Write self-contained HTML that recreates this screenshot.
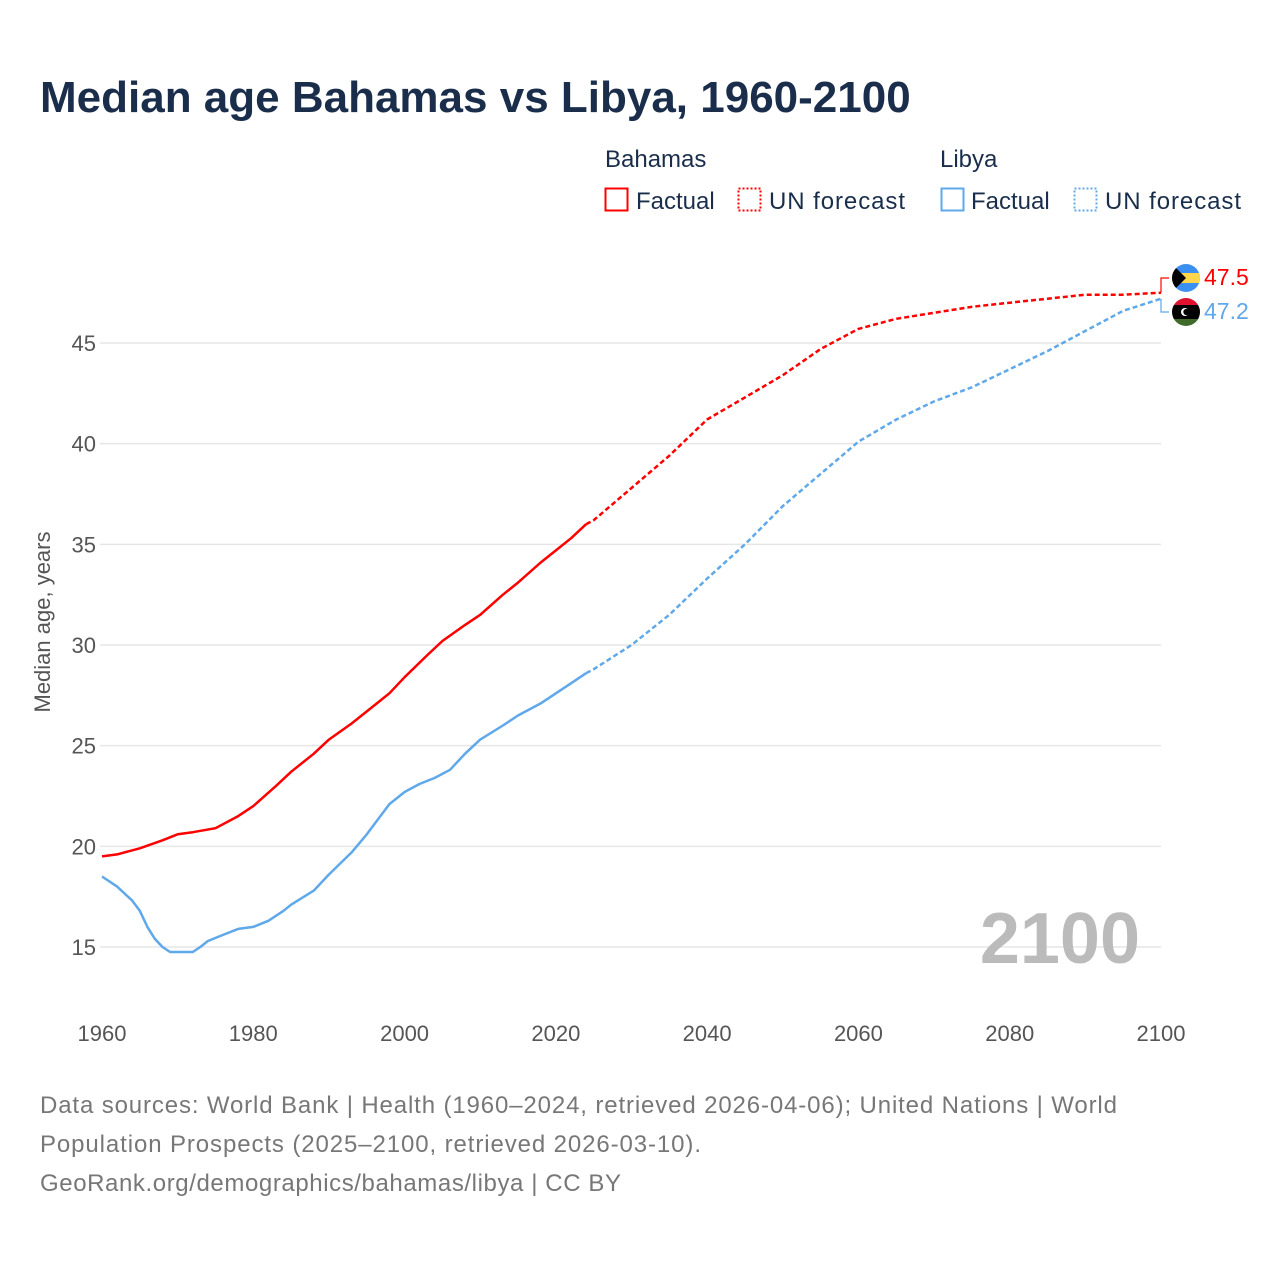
<!DOCTYPE html>
<html><head><meta charset="utf-8"><style>
body{margin:0;background:#fff;}
svg text{font-family:"Liberation Sans",sans-serif;}
</style></head><body>
<svg id="chart" width="1280" height="1280" viewBox="0 0 1280 1280" xmlns="http://www.w3.org/2000/svg">
<rect width="1280" height="1280" fill="#fff"/>
<text x="40" y="112" font-size="44" font-weight="bold" fill="#1a2e4c">Median age Bahamas vs Libya, 1960-2100</text>
<g font-size="24" fill="#1a2e4c">
<text x="605" y="167">Bahamas</text>
<text x="940" y="167">Libya</text>
<rect x="605.5" y="188.5" width="22" height="22" fill="none" stroke="#f00" stroke-width="2"/>
<text x="636" y="209">Factual</text>
<rect x="738.5" y="188.5" width="22" height="22" fill="none" stroke="#f00" stroke-width="2" stroke-dasharray="2,2"/>
<text x="769" y="209" textLength="136">UN forecast</text>
<rect x="941.5" y="188.5" width="22" height="22" fill="none" stroke="#5fa8ea" stroke-width="2"/>
<text x="971" y="209">Factual</text>
<rect x="1074.5" y="188.5" width="22" height="22" fill="none" stroke="#5fa8ea" stroke-width="2" stroke-dasharray="2,2"/>
<text x="1105" y="209" textLength="136">UN forecast</text>
</g>
<g id="grid"></g>
<g id="axes" font-size="22" fill="#555"></g>
<text transform="translate(50,622) rotate(-90)" text-anchor="middle" font-size="22" fill="#555">Median age, years</text>
<text x="1140" y="963" text-anchor="end" font-size="72" font-weight="bold" fill="#bbb">2100</text>
<g id="series"></g>
<g>
<g>
<clipPath id="cb"><circle cx="1186" cy="278" r="14"/></clipPath>
<g clip-path="url(#cb)">
<rect x="1172" y="264" width="28" height="28" fill="#3b8ff0"/>
<rect x="1172" y="273" width="28" height="10" fill="#ffd54a"/>
<polygon points="1172,264 1186,278 1172,292" fill="#000"/>
</g></g>
<g>
<clipPath id="cl"><circle cx="1186" cy="312" r="14"/></clipPath>
<g clip-path="url(#cl)">
<rect x="1172" y="298" width="28" height="7" fill="#e0102f"/>
<rect x="1172" y="305" width="28" height="14" fill="#000"/>
<rect x="1172" y="319" width="28" height="7" fill="#3f6a2a"/>
<circle cx="1185" cy="312" r="4" fill="#fff"/><circle cx="1186.5" cy="312" r="3.2" fill="#000"/>
</g></g>
<text x="1204" y="285" font-size="23" fill="#f00">47.5</text>
<text x="1204" y="319" font-size="23" fill="#5fa8ea">47.2</text>
</g>
<g font-size="24" fill="#777">
<text x="40" y="1113" textLength="1077">Data sources: World Bank | Health (1960–2024, retrieved 2026-04-06); United Nations | World</text>
<text x="40" y="1152" textLength="661">Population Prospects (2025–2100, retrieved 2026-03-10).</text>
<text x="40" y="1191" textLength="581">GeoRank.org/demographics/bahamas/libya | CC BY</text>
</g>
</svg>
<script>
const xTicks=[1960,1980,2000,2020,2040,2060,2080,2100];
const yTicks=[15,20,25,30,35,40,45];
const bahYears=[1960,1962,1965,1968,1970,1972,1975,1978,1980,1983,1985,1988,1990,1993,1995,1998,2000,2003,2005,2008,2010,2013,2015,2018,2020,2022,2024];
const bahValues=[19.5,19.6,19.9,20.3,20.6,20.7,20.9,21.5,22.0,23.0,23.7,24.6,25.3,26.1,26.7,27.6,28.4,29.5,30.2,31.0,31.5,32.5,33.1,34.1,34.7,35.3,36.0];
const bahFYears=[2024,2025,2030,2035,2040,2045,2050,2055,2060,2065,2070,2075,2080,2085,2090,2095,2100];
const bahFValues=[36.0,36.2,37.8,39.4,41.2,42.3,43.4,44.7,45.7,46.2,46.5,46.8,47.0,47.2,47.4,47.4,47.5];
const libYears=[1960,1962,1964,1965,1966,1967,1968,1969,1970,1972,1973,1974,1976,1978,1980,1982,1984,1985,1988,1990,1993,1995,1997,1998,2000,2002,2004,2006,2008,2010,2013,2015,2018,2020,2022,2024];
const libValues=[18.5,18.0,17.3,16.8,16.0,15.4,15.0,14.75,14.75,14.75,15.0,15.3,15.6,15.9,16.0,16.3,16.8,17.1,17.8,18.6,19.7,20.6,21.6,22.1,22.7,23.1,23.4,23.8,24.6,25.3,26.0,26.5,27.1,27.6,28.1,28.6];
const libFYears=[2024,2025,2030,2035,2040,2045,2050,2055,2060,2065,2070,2075,2080,2085,2090,2095,2100];
const libFValues=[28.6,28.8,30.0,31.5,33.3,35.0,36.9,38.5,40.1,41.2,42.1,42.8,43.7,44.6,45.6,46.6,47.2];
const NS='http://www.w3.org/2000/svg';
const xS=y=>102+(y-1960)*(1161-102)/140;
const yS=v=>947-(v-15)*(947-343)/30;
const grid=document.getElementById('grid'),axes=document.getElementById('axes'),ser=document.getElementById('series');
yTicks.forEach(t=>{
 const l=document.createElementNS(NS,'line');
 
 
 l.setAttribute('x1',100);l.setAttribute('x2',1161);l.setAttribute('y1',yS(t));l.setAttribute('y2',yS(t));
 l.setAttribute('stroke','#e6e6e6');l.setAttribute('stroke-width','1.5');grid.appendChild(l);
 const tx=document.createElementNS(NS,'text');
 
 
 tx.setAttribute('x',96);tx.setAttribute('y',yS(t)+8);tx.setAttribute('text-anchor','end');tx.textContent=t;axes.appendChild(tx);
});
xTicks.forEach(t=>{
 const tx=document.createElementNS(NS,'text');
 
 
 tx.setAttribute('x',xS(t));tx.setAttribute('y',1041);tx.setAttribute('text-anchor','middle');tx.textContent=t;axes.appendChild(tx);
});
function line(xs,vs,color,dash,name){
 const p=document.createElementNS(NS,'polyline');
 
 
 p.setAttribute('points',xs.map((x,i)=>xS(x).toFixed(1)+','+yS(vs[i]).toFixed(1)).join(' '));
 p.setAttribute('fill','none');p.setAttribute('stroke',color);p.setAttribute('stroke-width','2.5');
 p.setAttribute('stroke-linejoin','round');
 if(dash)p.setAttribute('stroke-dasharray','5,3');
 ser.appendChild(p);
}
line(libYears,libValues,'#5fa8ea',false,'libya-factual-line');
line(libFYears,libFValues,'#5fa8ea',true,'libya-forecast-line');
line(bahYears,bahValues,'#f00',false,'bahamas-factual-line');
line(bahFYears,bahFValues,'#f00',true,'bahamas-forecast-line');
function conn(v,ty,color,name){
 const p=document.createElementNS(NS,'polyline');
 
 
 const x=xS(2100),y=yS(v);
 p.setAttribute('points',`${x},${y} ${x},${ty} ${x+8},${ty}`);
 p.setAttribute('fill','none');p.setAttribute('stroke',color);p.setAttribute('stroke-width','1.2');
 ser.appendChild(p);
}
conn(bahFValues[bahFValues.length-1],278,'#f00','bahamas-label-connector');
conn(libFValues[libFValues.length-1],312,'#5fa8ea','libya-label-connector');
</script>
</body></html>
